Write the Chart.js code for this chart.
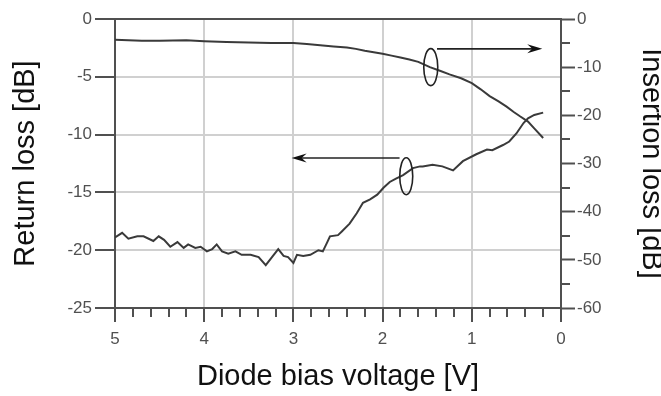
<!DOCTYPE html>
<html>
<head>
<meta charset="utf-8">
<script src="https://cdn.jsdelivr.net/npm/chart.js@4"></script>
<style>
html,body{margin:0;padding:0;background:#fff;}
#wrap{width:661px;height:396px;position:relative;}
</style>
</head>
<body>
<div id="wrap"><canvas id="c" width="661" height="396"></canvas></div>
<script>
// Return loss (left axis) vs diode bias voltage
const rlVoltage = [5.00,4.92,4.85,4.75,4.68,4.57,4.51,4.45,4.38,4.30,4.23,4.18,4.10,4.04,3.97,3.91,3.86,3.80,3.73,3.65,3.58,3.48,3.39,3.31,3.24,3.17,3.11,3.06,3.00,2.96,2.89,2.81,2.72,2.67,2.62,2.59,2.50,2.46,2.37,2.29,2.22,2.14,2.06,1.99,1.92,1.85,1.77,1.66,1.58,1.55,1.44,1.33,1.21,1.10,0.95,0.83,0.77,0.65,0.58,0.50,0.42,0.37,0.30,0.20];
const returnLoss = [-18.9,-18.5,-19.0,-18.8,-18.8,-19.2,-18.8,-19.1,-19.7,-19.3,-19.8,-19.5,-19.8,-19.7,-20.1,-19.9,-19.5,-20.1,-20.3,-20.1,-20.4,-20.4,-20.6,-21.3,-20.6,-19.9,-20.5,-20.6,-21.1,-20.4,-20.5,-20.4,-20.0,-20.1,-19.3,-18.8,-18.7,-18.4,-17.7,-16.8,-15.9,-15.6,-15.2,-14.6,-14.1,-13.8,-13.5,-12.9,-12.75,-12.75,-12.6,-12.75,-13.1,-12.3,-11.7,-11.3,-11.35,-10.9,-10.6,-9.9,-9.0,-8.6,-8.3,-8.1];
// Insertion loss (right axis)
const ilVoltage = [5.0,4.7,4.5,4.2,4.0,3.75,3.5,3.25,3.0,2.85,2.7,2.55,2.4,2.3,2.2,2.1,2.0,1.9,1.8,1.7,1.6,1.47,1.35,1.25,1.12,1.0,0.9,0.8,0.7,0.61,0.53,0.46,0.37,0.30,0.20];
const insertionLoss = [-4.3,-4.5,-4.5,-4.4,-4.6,-4.8,-4.9,-5.0,-5.0,-5.2,-5.45,-5.7,-5.9,-6.2,-6.6,-6.9,-7.2,-7.6,-8.0,-8.4,-8.9,-10.0,-10.8,-11.5,-12.3,-13.3,-14.6,-16.0,-17.1,-18.2,-19.3,-20.2,-21.3,-22.7,-24.7];

const xTitle = 'Diode bias voltage [V]';
const yLeftTitle = 'Return loss [dB]';
const yRightTitle = 'Insertion loss [dB]';

// annotation anchors (data units)
const ilMarker = {x: 1.46, y: -10.0, arrowY: -6.2, arrowFrom: 1.39, arrowTo: 0.21};
const rlMarker = {x: 1.735, y: -13.6, arrowY: -12.03, arrowFrom: 1.81, arrowTo: 3.02};

const AX = '#505050';
const GRID = '#d0d0d0';
const TICKFONT = {family: 'Liberation Sans, Arial, sans-serif', size: 17};
const TITLEFONT = {family: 'Liberation Sans, Arial, sans-serif', size: 29};

function arrow(ctx, x1, y, x2) {
  const dir = Math.sign(x2 - x1);
  ctx.beginPath();
  ctx.moveTo(x1, y);
  ctx.lineTo(x2 - dir * 8, y);
  ctx.stroke();
  ctx.beginPath();
  ctx.moveTo(x2, y);
  ctx.lineTo(x2 - dir * 15, y - 4.5);
  ctx.lineTo(x2 - dir * 10, y);
  ctx.lineTo(x2 - dir * 15, y + 4.5);
  ctx.closePath();
  ctx.fill();
}

const extras = {
  id: 'extras',
  afterDraw(chart) {
    const ctx = chart.ctx;
    const xs = chart.scales.x, yl = chart.scales.y, yr = chart.scales.y2;
    ctx.save();
    // minor x ticks
    ctx.strokeStyle = AX; ctx.lineWidth = 2;
    for (let i = 1; i < 25; i++) {
      if (i % 5 === 0) continue;
      const px = Math.round(xs.getPixelForValue(i / 5));
      ctx.beginPath(); ctx.moveTo(px, xs.top); ctx.lineTo(px, xs.top + 9); ctx.stroke();
    }
    // minor right ticks
    for (let v = -5; v > -60; v -= 10) {
      const py = Math.round(yr.getPixelForValue(v));
      ctx.beginPath(); ctx.moveTo(yr.left, py); ctx.lineTo(yr.left + 9, py); ctx.stroke();
    }
    // ellipses and arrows
    ctx.strokeStyle = '#222'; ctx.fillStyle = '#111'; ctx.lineWidth = 1.6;
    ctx.beginPath();
    ctx.ellipse(xs.getPixelForValue(ilMarker.x), yr.getPixelForValue(ilMarker.y), 7, 18.5, 0, 0, Math.PI * 2);
    ctx.stroke();
    ctx.beginPath();
    ctx.ellipse(xs.getPixelForValue(rlMarker.x), yl.getPixelForValue(rlMarker.y), 6.5, 18.5, 0, 0, Math.PI * 2);
    ctx.stroke();
    arrow(ctx, xs.getPixelForValue(ilMarker.arrowFrom), yr.getPixelForValue(ilMarker.arrowY), xs.getPixelForValue(ilMarker.arrowTo));
    arrow(ctx, xs.getPixelForValue(rlMarker.arrowFrom), yl.getPixelForValue(rlMarker.arrowY), xs.getPixelForValue(rlMarker.arrowTo));
    ctx.restore();
  }
};

new Chart(document.getElementById('c'), {
  type: 'line',
  data: {
    datasets: [
      {
        label: 'Return loss',
        data: rlVoltage.map((v, i) => ({x: v, y: returnLoss[i]})),
        yAxisID: 'y',
        borderColor: '#3a3a3a', borderWidth: 2, pointRadius: 0, tension: 0, fill: false
      },
      {
        label: 'Insertion loss',
        data: ilVoltage.map((v, i) => ({x: v, y: insertionLoss[i]})),
        yAxisID: 'y2',
        borderColor: '#3a3a3a', borderWidth: 2, pointRadius: 0, tension: 0, fill: false
      }
    ]
  },
  options: {
    responsive: false,
    animation: false,
    devicePixelRatio: 1,
    layout: {padding: {top: 19, left: 0, right: 0, bottom: 0}},
    plugins: {legend: {display: false}, tooltip: {enabled: false}},
    scales: {
      x: {
        type: 'linear', position: 'bottom', reverse: true, min: 0, max: 5,
        ticks: {stepSize: 1, color: AX, font: TICKFONT, padding: 7, maxRotation: 0},
        grid: {color: GRID, lineWidth: 2, tickLength: 14, tickColor: AX, tickWidth: 2},
        border: {color: AX, width: 2},
        title: {display: true, text: xTitle, color: '#111', font: TITLEFONT, padding: {top: 0, bottom: 2}},
        afterFit(s) { s.height = 88; }
      },
      y: {
        type: 'linear', position: 'left', min: -25, max: 0,
        ticks: {stepSize: 5, color: AX, font: TICKFONT, padding: 3},
        grid: {
          color: c => c.tick && c.tick.value === 0 ? AX : GRID,
          lineWidth: 2,
          tickLength: 20, tickColor: AX, tickWidth: 2
        },
        border: {color: AX, width: 2},
        title: {display: true, text: yLeftTitle, color: '#111', font: TITLEFONT, padding: {top: 9, bottom: 0}},
        afterFit(s) { s.width = 115; }
      },
      y2: {
        type: 'linear', position: 'right', min: -60, max: 0,
        ticks: {stepSize: 10, color: AX, font: TICKFONT, padding: 2},
        grid: {drawOnChartArea: false, tickLength: 14, tickColor: AX, tickWidth: 2},
        border: {color: AX, width: 2},
        title: {display: true, text: yRightTitle, color: '#111', font: TITLEFONT, padding: {top: -7, bottom: 0}},
        afterFit(s) { s.width = 100; }
      }
    }
  },
  plugins: [extras]
});
</script>
</body>
</html>
